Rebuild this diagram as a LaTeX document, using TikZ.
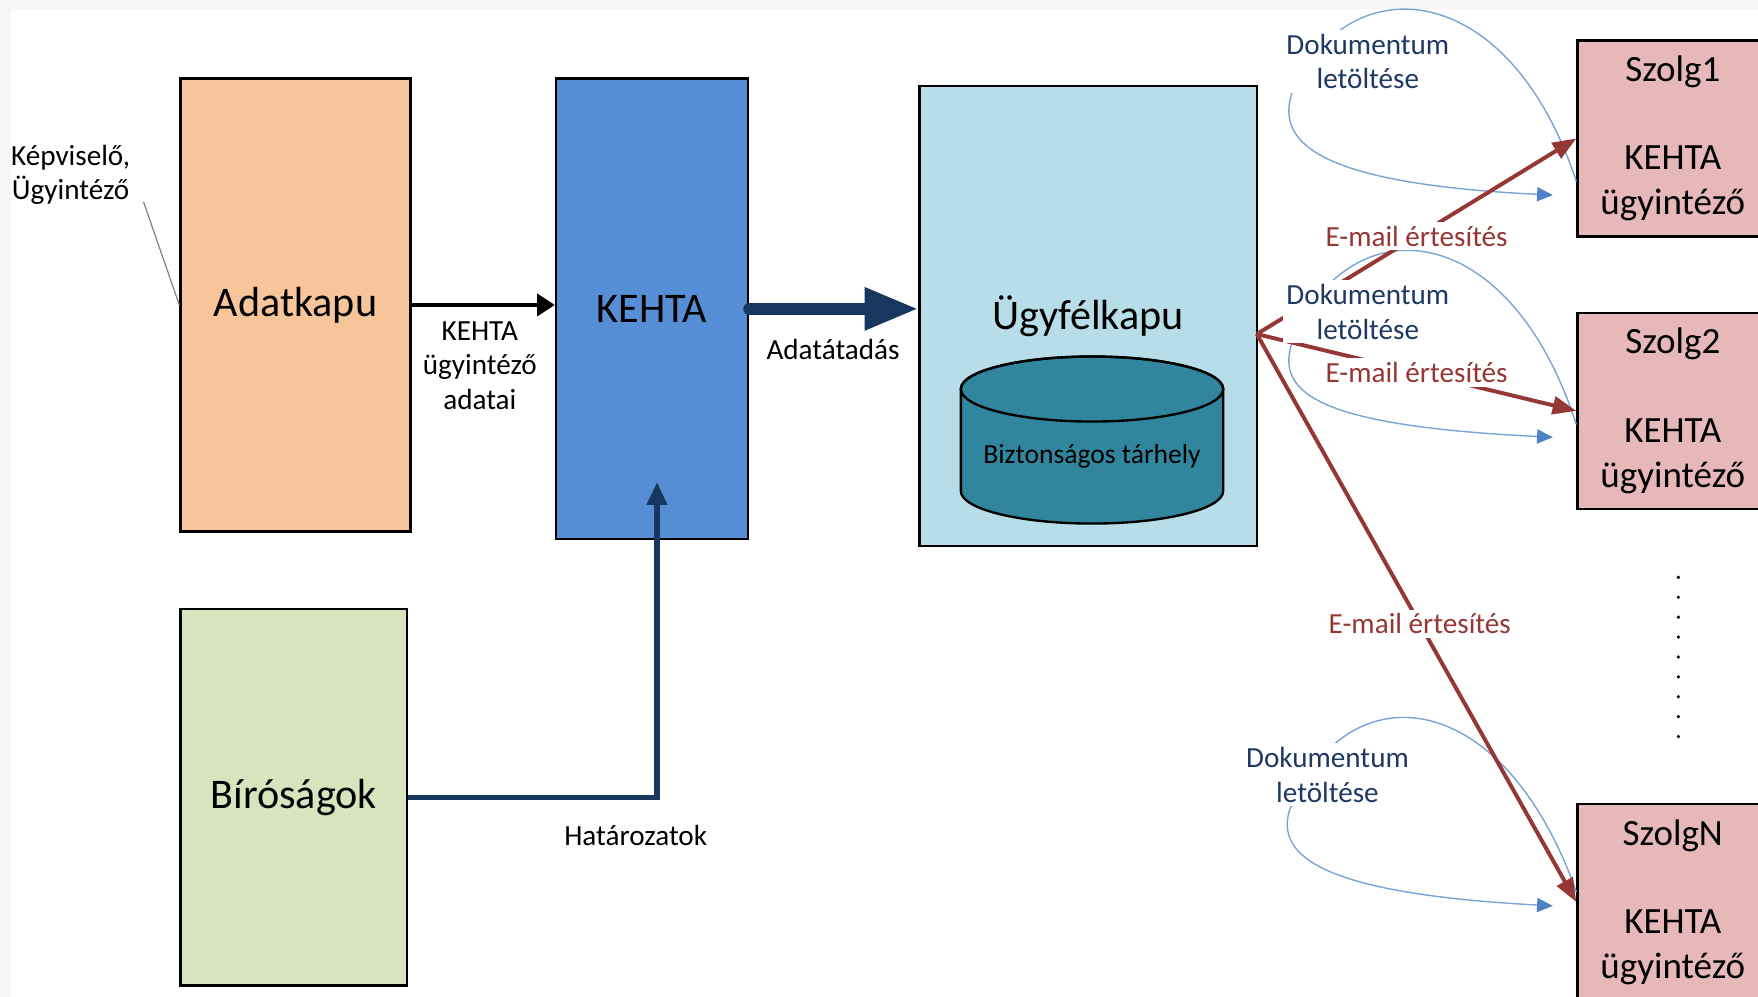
\documentclass[tikz,border=0pt]{standalone}
\usepackage{fontspec}
\setmainfont{Carlito}
\usetikzlibrary{arrows.meta,calc}

\definecolor{peach}{RGB}{248,197,155}
\definecolor{keblue}{RGB}{85,142,213}
\definecolor{ukblue}{RGB}{183,222,232}
\definecolor{cylteal}{RGB}{49,133,156}
\definecolor{birgreen}{RGB}{215,228,189}
\definecolor{szpink}{RGB}{230,185,184}
\definecolor{navy}{RGB}{23,55,94}
\definecolor{mailred}{RGB}{149,55,53}
\definecolor{doctext}{RGB}{31,56,100}
\definecolor{doccurve}{RGB}{120,163,215}
\definecolor{docarrow}{RGB}{79,129,199}

\newcommand{\boxfont}{\fontsize{10.7}{12.8}\selectfont}
\newcommand{\szfont}{\fontsize{9.4}{11.4}\selectfont}
\newcommand{\lblfont}{\fontsize{7.4}{8.8}\selectfont}
\newcommand{\cylfont}{\fontsize{7}{8.4}\selectfont}

\begin{document}
\begin{tikzpicture}[x=0.1mm,y=0.1mm,
      box/.style={draw,line width=0.6pt,inner sep=2pt,font=\boxfont},
      szbox/.style={box,fill=szpink,minimum width=17mm,minimum height=17.5mm,
      align=center,font=\szfont},
      lbl/.style={font=\lblfont,align=center,inner sep=1pt},
      maillbl/.style={lbl,text=mailred,fill=white},
      doclbl/.style={lbl,text=doctext,fill=white},
      mailarrow/.style={draw=mailred,line width=1pt,-{Triangle[length=6pt,width=4.5pt]}},
      docloop/.style={draw=doccurve,line width=0.35pt,
      -{Triangle[length=4pt,width=3.6pt,color=docarrow]}}]

      % page
      \useasboundingbox (0,0) rectangle (1568,889);
      \clip (0,0) rectangle (1568,889);
      \fill[gray!7] (0,0) rectangle (1568,889);
      \fill[white] (10,0) rectangle (1568,881);

      %% boxes
      \node[box,fill=peach,minimum width=20.5mm,minimum height=40.4mm] (ak) at (263.5,617) {Adatkapu};
      \node[box,fill=keblue,minimum width=17.1mm,minimum height=41.1mm] (kehta) at (581.5,613.5) {KEHTA};
      \node[box,fill=ukblue,minimum width=30.1mm,minimum height=41mm] (uk) at (970.5,607) {Ügyfélkapu};
      \node[box,fill=birgreen,minimum width=20.2mm,minimum height=33.6mm] (bir) at (262,178) {Bíróságok};
      \node[szbox] (sz1) at (1492,765.5) {Szolg1\\[11pt]KEHTA\\ügyintéző};
      \node[szbox] (sz2) at (1492,522.5) {Szolg2\\[11pt]KEHTA\\ügyintéző};
      \node[szbox] (szn) at (1492,84.5) {SzolgN\\[11pt]KEHTA\\ügyintéző};

      % storage inside Ugyfelkapu
      \filldraw[fill=cylteal,line width=0.6pt] (857,542) -- (857,451)
            arc[start angle=180,end angle=360,x radius=11.7mm,y radius=2.9mm]
            -- (1091,542)
            arc[start angle=0,end angle=180,x radius=11.7mm,y radius=2.9mm] -- cycle;
      \draw[line width=0.6pt] (974,542) ellipse[x radius=11.7mm,y radius=2.9mm];
      \node[font=\cylfont] (tar) at (974,482) {Biztonságos tárhely};

      \foreach \i in {0,...,8}
            \fill (1497,374-\i*17.75) circle[radius=0.16mm];

      %% left side
      \node[lbl] (kv) at (63,733) {Képviselő,\\Ügyintéző};
      \coordinate (kvtip) at (128,709);
      \draw[gray,line width=0.3pt] (kvtip) -- (ak.west);

      \draw[line width=1.2pt,-{Triangle[length=4.5pt,width=5.5pt]}] (ak.east) -- (ak.east -| kehta.west);
      \node[lbl] (akl) at (428,563) {KEHTA\\ügyintéző\\adatai};

      \draw[navy,line width=2.9pt,line cap=round,-{Triangle[length=13.6pt,width=10.2pt]}]
            (kehta.east) -- (kehta.east -| uk.west);
      \node[lbl] (atad) at (743,577) {Adatátadás};

      \coordinate (hat) at (586,459);
      \draw[navy,line width=1.3pt,-{Triangle[length=5.8pt,width=5pt]}] (bir.east) -| (hat);
      \node[lbl] (hatl) at (567,144) {Határozatok};

      %% document download loops
      \coordinate (d1e) at (1385,715);
      \coordinate (d2e) at (1385,499);
      \coordinate (d3e) at (1385,81);
      \draw[docloop] (sz1.204) .. controls (1345,912) and (1200,920) .. (1152,805)
            .. controls (1138,760) and (1180,725) .. (d1e);
      \draw[docloop] (sz2.188) .. controls (1345,699) and (1200,707) .. (1152,582)
            .. controls (1138,537) and (1180,509) .. (d2e);
      \draw[docloop] (szn.174) .. controls (1340,280) and (1200,292) .. (1150,166)
            .. controls (1138,125) and (1180,92) .. (d3e);

      %% e-mail notifications
      \coordinate (mail) at (1121,591);
      \draw[mailarrow] (mail) -- (sz1.west) node[maillbl,midway] {E-mail értesítés};
      \draw[mailarrow] (mail) -- (sz2.west) node[maillbl,midway] {E-mail értesítés};
      \draw[mailarrow] (mail) -- (szn.west) node[maillbl,pos=0.51] {E-mail értesítés};

      \node[doclbl] (dl1) at (1220,834) {Dokumentum\\letöltése};
      \node[doclbl] (dl2) at (1220,611) {Dokumentum\\letöltése};
      \node[doclbl] (dl3) at (1184,198) {Dokumentum\\letöltése};
\end{tikzpicture}
\end{document}
